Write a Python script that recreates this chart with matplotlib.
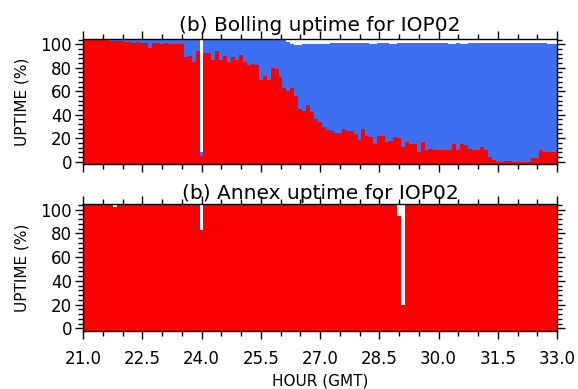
import numpy as np
import matplotlib
matplotlib.use("Agg")
import matplotlib.pyplot as plt
from matplotlib.ticker import MultipleLocator

# 6-minute bins, centred on 21.0 ... 33.0 GMT
hours = np.round(np.arange(21.0, 33.05, 0.1), 1)

# Bolling: red = up, blue top = total
bolling_red = [
    104, 104, 104, 104, 104, 103.5, 104, 103, 102.5, 102.5,      # 21.0-21.9
    102.5, 102, 102, 101.5, 102, 101.5, 101, 97, 101, 101,       # 22.0-22.9
    100.5, 101, 100.5, 100.5, 100, 100, 89, 90, 84.5, 94,        # 23.0-23.9
    5, 93, 93, 87, 94, 87, 90, 85, 89, 87,                       # 24.0-24.9
    91, 85, 82, 83, 82, 70, 73, 70, 80, 79,                      # 25.0-25.9
    72, 63, 60, 63, 56, 45, 43, 48, 42, 36,                      # 26.0-26.9
    34, 29.5, 27, 26.5, 24, 24, 28, 26.5, 26.5, 23.7,            # 27.0-27.9
    18.6, 28, 22, 21, 15, 22, 22, 16.6, 18, 21,                  # 28.0-28.9
    20, 12.4, 16.6, 15.3, 15.3, 8, 16.6, 9.6, 11, 10.2,          # 29.0-29.9
    10.2, 10.2, 10.2, 10, 15, 10, 15, 14.5, 11, 10,              # 30.0-30.9
    10, 12.4, 9.6, 4, 1.4, 0, 0, 0.5, 0.5, 0,                    # 31.0-31.9
    0, 0, 0, 0, 3, 3, 9.6, 8, 8, 8,                              # 32.0-32.9
    8,                                                           # 33.0
]
bolling_total = [
    104, 104, 104, 104, 104, 104, 104, 103.5, 104, 103.5,
    104, 103.5, 104, 104, 103.5, 104, 104, 103.5, 104, 104,
    104, 104, 104, 104, 104, 104, 104, 104, 104, 104,
    8, 104, 104, 104, 104, 104, 104, 104, 104, 104,
    104, 104, 104, 104, 104, 104, 104, 104, 104, 104,
    104, 104, 102, 100, 99.5, 99.5, 100, 100.5, 100.5, 100.5,
    100.5, 100.5, 100.5, 101, 101, 101, 101, 101, 101, 101,
    101, 101, 101, 100.5, 100.5, 101, 101, 101, 100.5, 100.5,
    101, 101, 101, 101, 101, 101, 101, 101, 101, 101,
    101, 101, 101, 100.5, 100.5, 101, 100.5, 100.5, 101, 101,
    101, 101, 101, 101, 101, 101, 101, 101, 101, 101,
    101, 101, 101, 101, 101, 101, 101, 101, 100, 100,
    100,
]

# Annex: red = up
annex_red = [104] * len(hours)
annex_red[8] = 102    # 21.8
annex_red[30] = 83    # 24.0
annex_red[80] = 95    # 29.0
annex_red[81] = 20    # 29.1

ymin, ymax = -2, 104.5
red = '#fa0000'
blue = '#3d6ff0'

edges = np.append(hours - 0.05, hours[-1] + 0.05)

fig = plt.figure(figsize=(5.78, 3.89), dpi=100)
ax1 = fig.add_axes([0.1436, 0.5784, 0.8201, 0.3213])
ax2 = fig.add_axes([0.1436, 0.1499, 0.8201, 0.3249])

ax1.stairs(bolling_red, edges, baseline=ymin, fill=True, color=red, lw=0)
ax1.stairs(bolling_total, edges, baseline=np.array(bolling_red, float), fill=True, color=blue, lw=0)
ax2.stairs(annex_red, edges, baseline=ymin, fill=True, color=red, lw=0)

ax1.set_title('(b) Bolling uptime for IOP02', fontsize=14.5, pad=6)
ax2.set_title('(b) Annex uptime for IOP02', fontsize=14.5, pad=4)

for ax in (ax1, ax2):
    ax.set_xlim(21, 33)
    ax.set_ylim(ymin, ymax)
    ax.xaxis.set_major_locator(MultipleLocator(1.5))
    ax.xaxis.set_minor_locator(MultipleLocator(0.5))
    ax.yaxis.set_major_locator(MultipleLocator(20))
    ax.yaxis.set_minor_locator(MultipleLocator(4))
    ax.tick_params(which='both', direction='out', top=True, right=True, width=1,
                   labelsize=12, pad=2)
    ax.tick_params(which='major', length=6)
    ax.tick_params(which='minor', length=3.5)
    ax.tick_params(axis='x', pad=8)
    ax.set_ylabel('UPTIME (%)', fontsize=11, labelpad=8)
    ax.xaxis.set_major_formatter(plt.FuncFormatter(lambda v, p: '%.1f' % v))
    for s in ax.spines.values():
        s.set_linewidth(1)

ax1.tick_params(labelbottom=False)
ax2.set_xlabel('HOUR (GMT)', fontsize=11, labelpad=4)

fig.savefig('out.png', dpi=100)
